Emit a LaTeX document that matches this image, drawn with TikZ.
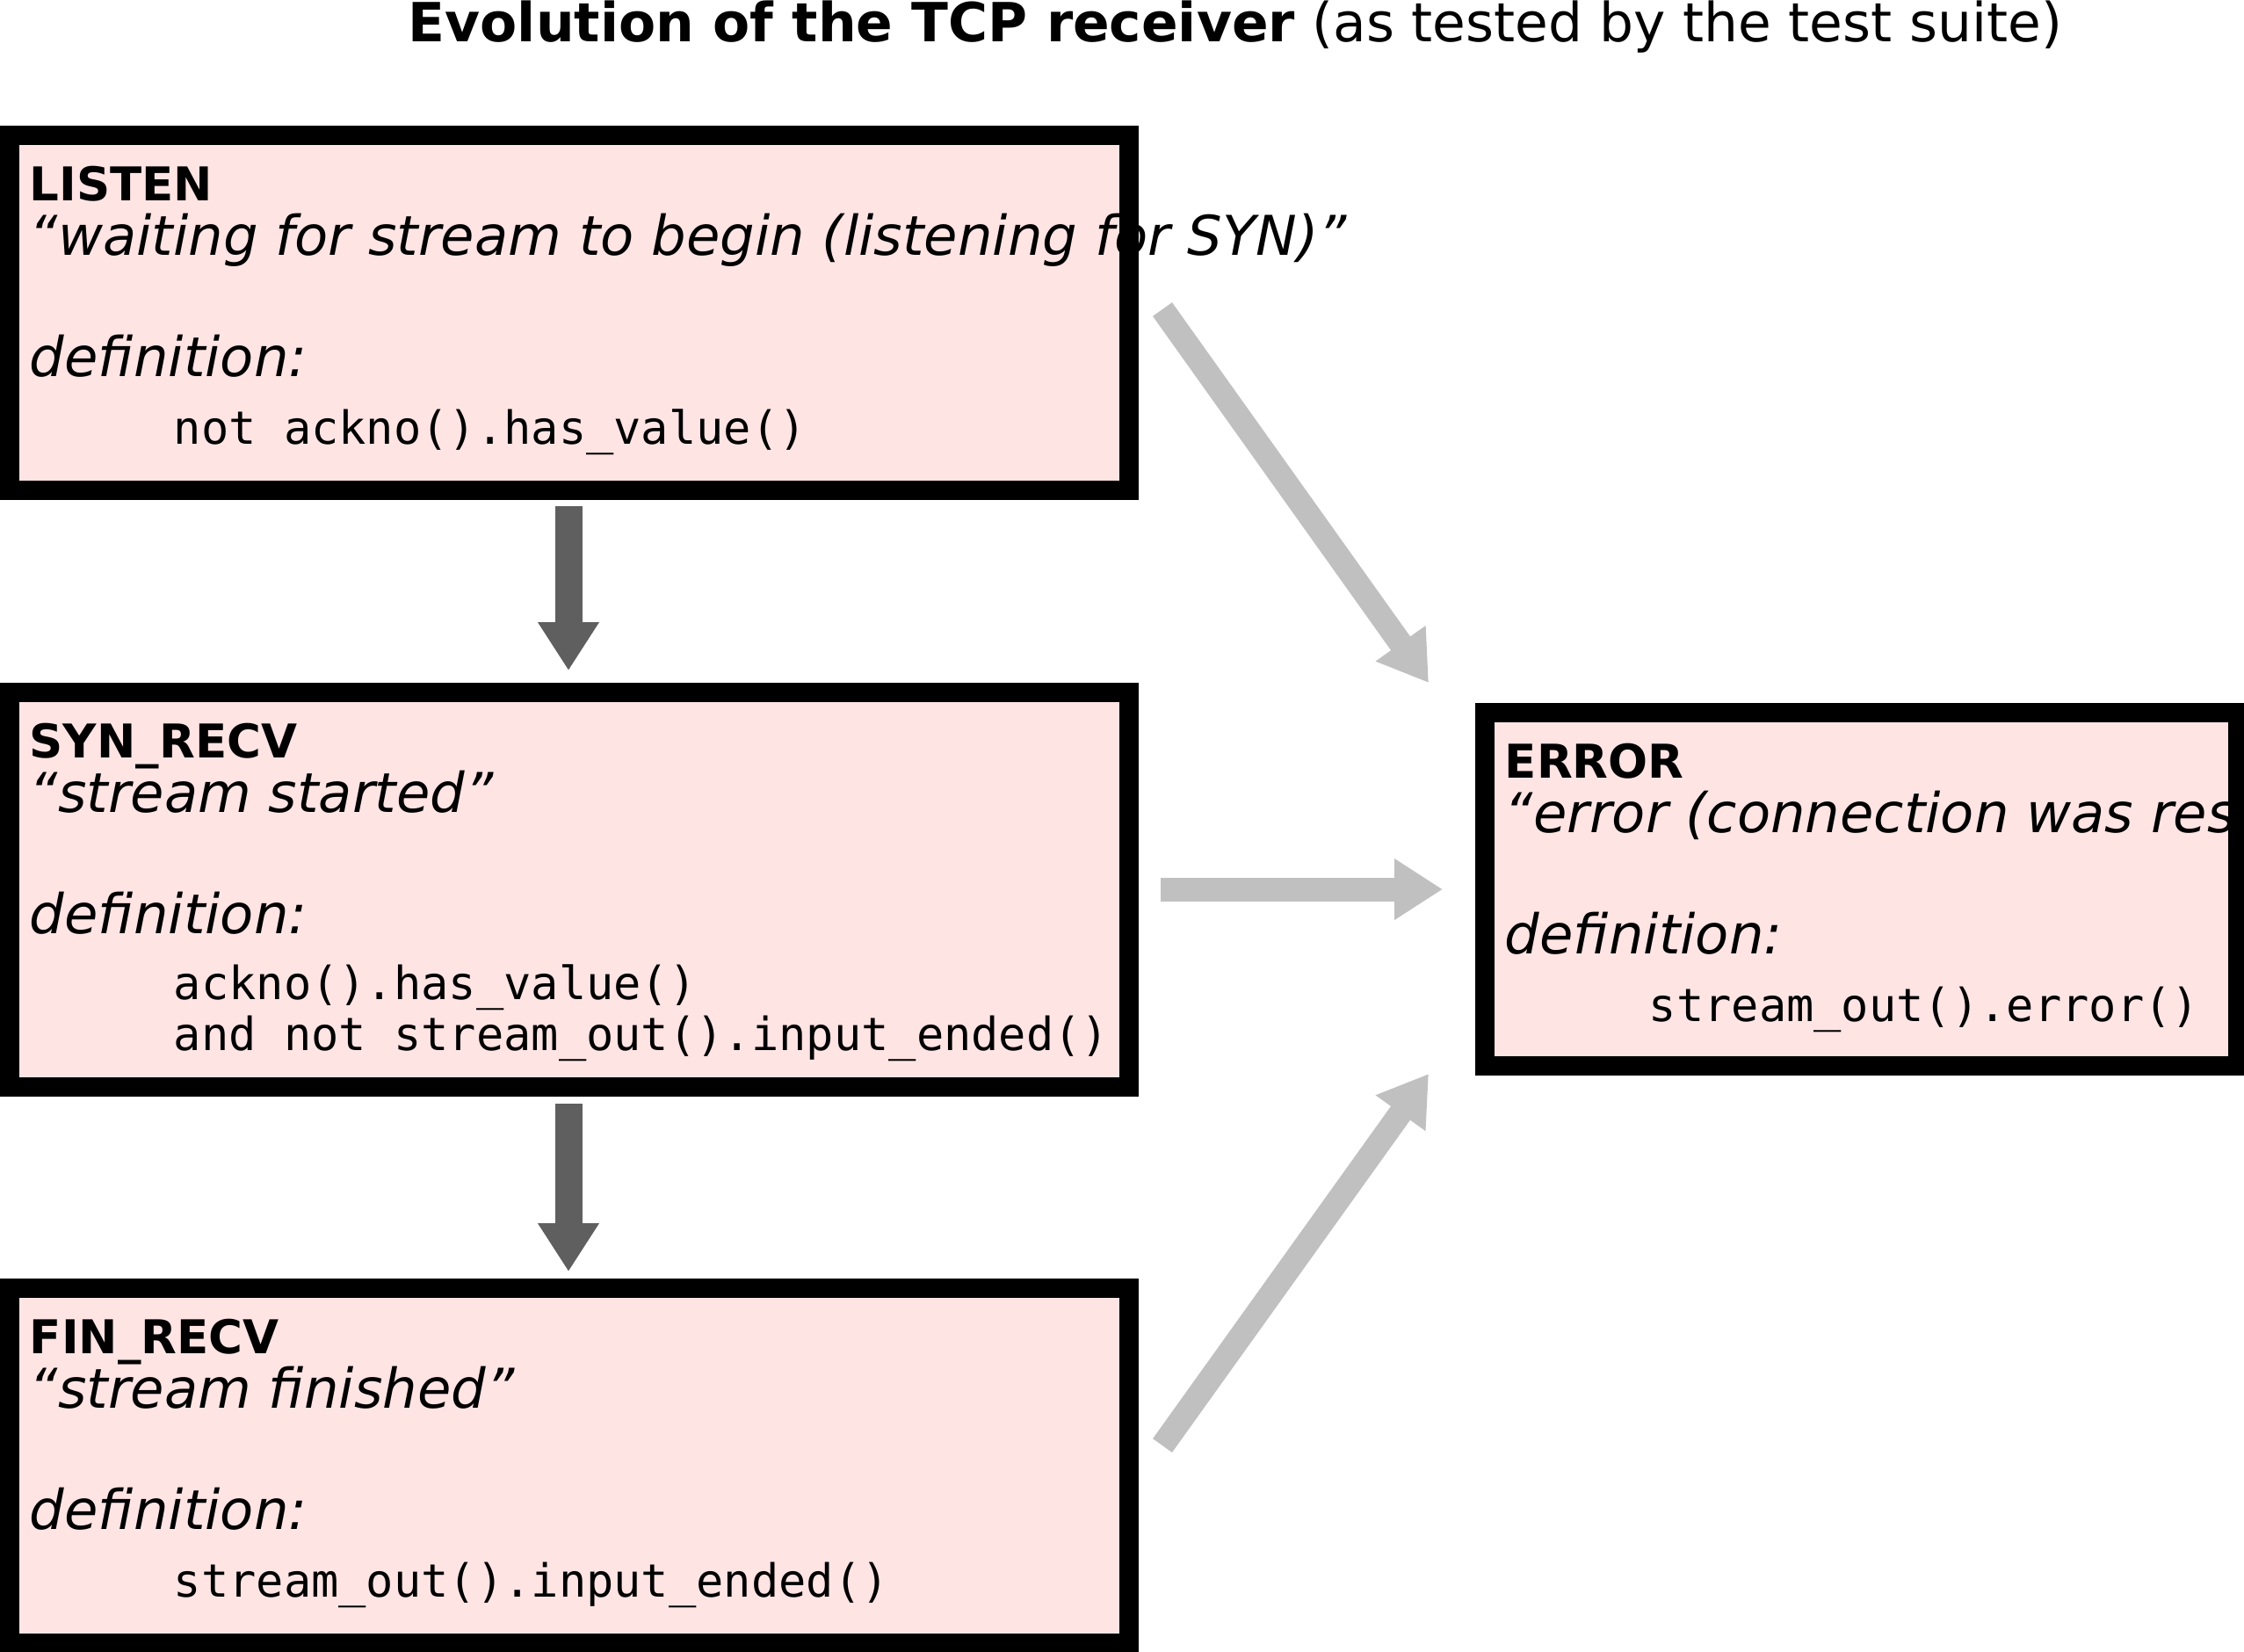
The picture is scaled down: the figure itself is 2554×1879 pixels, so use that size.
\documentclass[tikz,border=0pt]{standalone}
\usepackage{fontspec}
\setmainfont{DejaVu Sans}
\setmonofont{DejaVu Sans Mono}
\usetikzlibrary{arrows.meta}
\definecolor{statefill}{HTML}{FFE4E4}
\definecolor{darkarrow}{HTML}{5F5F5F}
\definecolor{lightarrow}{HTML}{C0C0C0}

\begin{document}
\begin{tikzpicture}[x=0.25pt,y=-0.25pt,
    statebox/.style={fill=statefill,inner sep=0pt,anchor=north west,minimum width=318pt},
    statename/.style={anchor=base west,inner sep=0pt,font=\fontsize{13.25pt}{15pt}\selectfont\bfseries},
    desc/.style={anchor=base west,inner sep=0pt,font=\fontsize{15.6pt}{18pt}\selectfont\itshape},
    code/.style={anchor=base west,inner sep=0pt,font=\fontsize{13pt}{15pt}\selectfont\ttfamily},
    downarrow/.style={darkarrow,line width=7.75pt,-{Triangle[length=13.75pt,width=16.5pt]}},
    errarrow/.style={lightarrow,line width=6.75pt,-{Triangle[length=13.75pt,width=16.5pt]}}]
  \clip (0,0) rectangle (2554,1879);
  \node[anchor=base west,inner sep=0pt,font=\fontsize{15.35pt}{18pt}\selectfont] (title) at (464,47)
    {\textbf{Evolution of the TCP receiver} (as tested by the test suite)};
  % states
  \node[statebox,minimum height=100.5pt] (listen) at (11,154) {};
  \node[statebox,minimum height=111.75pt] (synrecv) at (11,788) {};
  \node[statebox,minimum height=100.5pt] (finrecv) at (11,1466) {};
  \node[statebox,minimum width=213.75pt,minimum height=100pt] (error) at (1690,811) {};
  \node[statename] (listen-name) at (33,228) {LISTEN};
  \node[desc] (listen-desc) at (33,290) {“waiting for stream to begin (listening for SYN)”};
  \node[desc] (listen-def) at (33,428) {definition:};
  \node[code] (listen-code) at (197,505) {not ackno().has\_value()};
  \node[statename] (synrecv-name) at (33,862) {SYN\_RECV};
  \node[desc] (synrecv-desc) at (33,924) {“stream started”};
  \node[desc] (synrecv-def) at (33,1062) {definition:};
  \node[code] (synrecv-code) at (197,1137) {ackno().has\_value()};
  \node[code] (synrecv-code2) at (197,1195) {and not stream\_out().input\_ended()};
  \node[statename] (finrecv-name) at (33,1540) {FIN\_RECV};
  \node[desc] (finrecv-desc) at (33,1602) {“stream finished”};
  \node[desc] (finrecv-def) at (33,1740) {definition:};
  \node[code] (finrecv-code) at (197,1817) {stream\_out().input\_ended()};
  \node[statename] (error-name) at (1712,885) {ERROR};
  \node[desc] (error-desc) at (1712,947) {“error (connection was res};
  \node[desc] (error-def) at (1712,1085) {definition:};
  \node[code] (error-code) at (1876,1162) {stream\_out().error()};
  \foreach \s in {listen,synrecv,finrecv,error}
    \draw[line width=5.5pt] (\s.north west) rectangle (\s.south east);
  % transitions
  \coordinate (listen-out) at (647,576);
  \coordinate (synrecv-in) at (647,763);
  \coordinate (synrecv-out) at (647,1256);
  \coordinate (finrecv-in) at (647,1447);
  \draw[downarrow] (listen-out) -- (synrecv-in);
  \draw[downarrow] (synrecv-out) -- (finrecv-in);
  \coordinate (listen-err) at (1323,352);
  \coordinate (synrecv-err) at (1321,1012);
  \coordinate (finrecv-err) at (1323,1645);
  \coordinate (error-in1) at (1626,777);
  \coordinate (error-in2) at (1642,1012);
  \coordinate (error-in3) at (1626,1222);
  \draw[errarrow] (listen-err) -- (error-in1);
  \draw[errarrow] (synrecv-err) -- (error-in2);
  \draw[errarrow] (finrecv-err) -- (error-in3);
\end{tikzpicture}
\end{document}
